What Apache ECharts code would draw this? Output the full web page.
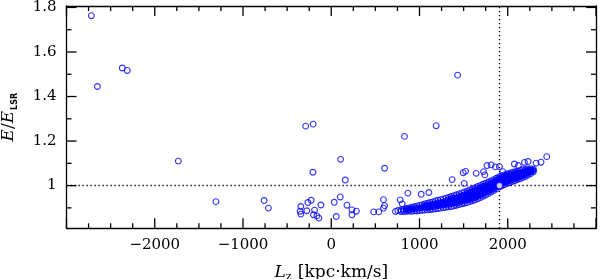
<!DOCTYPE html>
<html>
<head>
<meta charset="utf-8">
<script src="https://cdn.jsdelivr.net/npm/echarts@6/dist/echarts.min.js"></script>
<style>html,body{margin:0;padding:0;background:#fff}#c{width:600px;height:279px}</style>
</head>
<body>
<div id="c"></div>
<script>
// ---- data (Lz [kpc km/s], E/E_LSR) ----
const xTicks = [-2000, -1000, 0, 1000, 2000];
const xMajorTicks = [-3000, -2000, -1000, 0, 1000, 2000, 3000];
const xMinorTicks = [-2750, -2500, -2250, -1750, -1500, -1250, -750, -500, -250,
                     250, 500, 750, 1250, 1500, 1750, 2250, 2500, 2750];
const yMajorTicks = [1.0, 1.2, 1.4, 1.6, 1.8];
const yMinorTicks = [0.9, 1.1, 1.3, 1.5, 1.7];
const refLz = 1906;   // vertical dotted line
const refE = 1.0;     // horizontal dotted line

const haloStars = [
  [-2718,1.763],[-2650,1.445],[-2368,1.528],[-2312,1.517],[-1733,1.110],[-1307,0.928],
  [-761,0.933],[-712,0.899],[-352,0.885],[-345,0.872],[-345,0.906],[-277,0.887],[-265,0.924],
  [-227,0.934],[-208,1.060],[-189,0.890],[-201,0.869],[-163,0.864],[-140,0.854],[-117,0.913],
  [34,0.925],[57,0.861],[102,0.949],[106,1.118],[159,1.025],[178,0.912],[235,0.891],[235,0.869],
  [284,0.885],[481,0.882],[538,0.882],[-290,1.267],[-205,1.276],[830,1.221],[1189,1.269],
  [1432,1.496],[604,1.078]
];
const nearBand = [
  [592,0.937],[604,0.910],[592,0.899],[728,0.884],[755,0.888],[781,0.936],[804,0.918],
  [868,0.966],[1019,0.961],[1106,0.969],[1370,1.027],[1495,1.058],[1522,1.064],[1506,1.010],
  [1642,1.055],[1725,1.063],[1740,1.048],[1765,1.090],[1811,1.093],[1860,1.084],[1906,1.085],
  [1943,1.063],[2075,1.097],[2120,1.090],[2189,1.104],[2230,1.108],[2321,1.101],[2377,1.105],
  [2442,1.130]
];
// dense band: each row = [Lz, E values...]
const bandRows = [
  [790,.884,.890],[820,.883,.894],[850,.885,.892,.897],[880,.886,.893,.900],
  [910,.885,.895,.903],[940,.887,.896,.905],[970,.886,.898,.908],[1000,.888,.900,.911],
  [1030,.889,.901,.914],[1060,.890,.902,.910,.918],[1090,.891,.901,.912,.921],
  [1120,.893,.904,.915,.924],[1150,.894,.906,.916,.927],[1180,.896,.907,.919,.931],
  [1210,.897,.910,.922,.934],[1240,.899,.912,.924,.937],[1270,.901,.913,.926,.940],
  [1300,.903,.916,.930,.944],[1330,.905,.916,.927,.937,.947],[1360,.906,.918,.929,.941,.951],
  [1390,.909,.921,.932,.944,.955],[1420,.912,.923,.935,.946,.959],[1450,.915,.926,.939,.951,.963],
  [1480,.918,.930,.942,.955,.967],[1510,.921,.933,.946,.958,.972],[1540,.924,.935,.945,.956,.966,.976],
  [1570,.928,.938,.950,.961,.971,.981],[1600,.932,.943,.954,.964,.976,.986],
  [1630,.936,.947,.958,.970,.980,.991],[1660,.941,.952,.962,.974,.985,.996],
  [1690,.946,.957,.968,.979,.991,1.001],[1720,.952,.963,.973,.985,.996,1.006],
  [1750,.958,.969,.980,.990,1.001,1.011],[1780,.964,.974,.985,.996,1.006,1.016],
  [1810,.971,.981,.991,1.002,1.011,1.021],[1840,.978,.988,.997,1.008,1.018,1.027],
  [1870,.985,.995,1.005,1.014,1.024,1.033],[1900,.993,1.002,1.011,1.020,1.030,1.039],
  [1930,.999,1.008,1.017,1.026,1.036,1.044],[1960,1.004,1.013,1.022,1.031,1.040,1.048],
  [1990,1.009,1.018,1.026,1.035,1.044,1.052],[2020,1.013,1.022,1.031,1.040,1.048,1.056],
  [2050,1.018,1.027,1.035,1.043,1.051,1.059],[2080,1.022,1.031,1.039,1.047,1.055,1.062],
  [2110,1.027,1.035,1.043,1.051,1.058,1.065],[2140,1.031,1.040,1.048,1.057,1.068],
  [2170,1.036,1.045,1.053,1.062,1.071],[2200,1.041,1.049,1.057,1.065,1.073],
  [2230,1.047,1.055,1.062,1.069,1.075],[2260,1.054,1.062,1.069,1.076],[2290,1.062,1.068,1.074]
];
const sunPoint = [[1906, 1.000]];

// ---- chart ----
const bandEdge = [], bandCore = [];
bandRows.forEach(r => {
  for (let i = 1; i < r.length; i++) {
    const p = [r[0], r[i]];
    if (i === 1 || i === r.length - 1) bandEdge.push(p); else bandCore.push(p);
  }
});

const BLUE = '#0000ff';
const SERIF = 'DejaVu Serif';
const X_MIN = -3000, X_MAX = 3000;
const Y_MIN = 0.8083, Y_MAX = 1.8065;
const GRID = {left: 66.5, top: 6, width: 529.5, height: 222.3};
const SYM = 5.8;
const MAJOR = 10, MINOR = 5;   // tick lengths in px
const ring = {color: 'rgba(0,0,0,0)', borderColor: BLUE, borderWidth: 1.1};
const axisLine = {show: true, onZero: false, lineStyle: {color: '#000', width: 1.3}};
const fmtX = v => (v < 0 ? '\u2212' + Math.abs(v) : String(v));

// linear axis mapping of the grid (same as the value axes' linear scale)
const px = v => GRID.left + (v - X_MIN) / (X_MAX - X_MIN) * GRID.width;
const py = v => GRID.top + (Y_MAX - v) / (Y_MAX - Y_MIN) * GRID.height;
const gBottom = GRID.top + GRID.height, gRight = GRID.left + GRID.width;
const tickEls = [];
function seg(x1, y1, x2, y2) {
  tickEls.push({type: 'line', silent: true, z: 100, zlevel: 0,
    shape: {x1: x1, y1: y1, x2: x2, y2: y2}, style: {stroke: '#000', lineWidth: 1.3}});
}
function xTick(v, len) {
  const x = px(v);
  seg(x, gBottom, x, gBottom - len);
  seg(x, GRID.top, x, GRID.top + len);
}
function yTick(v, len) {
  const y = py(v);
  seg(GRID.left, y, GRID.left + len, y);
  seg(gRight, y, gRight - len, y);
}
xMajorTicks.forEach(v => xTick(v, MAJOR));
xMinorTicks.forEach(v => xTick(v, MINOR));
yMajorTicks.forEach(v => yTick(v, MAJOR));
yMinorTicks.forEach(v => yTick(v, MINOR));

function xAx(pos, labels) {
  return {
    type: 'value', position: pos, min: X_MIN, max: X_MAX, interval: 1000,
    axisLine: axisLine, splitLine: {show: false}, axisTick: {show: false}, minorTick: {show: false},
    axisLabel: labels ? {show: true, margin: 9, customValues: xTicks, formatter: fmtX,
      fontFamily: SERIF, fontSize: 15, color: '#000'} : {show: false},
    name: labels ? '{i|L}{s|z} [kpc·km/s]' : '',
    nameLocation: 'middle', nameGap: 34,
    nameTextStyle: {fontFamily: SERIF, fontSize: 17, color: '#000',
      rich: {i: {fontFamily: SERIF, fontStyle: 'italic', fontSize: 17, lineHeight: 20},
             s: {fontFamily: SERIF, fontSize: 11, verticalAlign: 'bottom', lineHeight: 11, padding: [8, 1, 0, 0]}}}
  };
}
function yAx(pos, labels) {
  return {
    type: 'value', position: pos, min: Y_MIN, max: Y_MAX,
    axisLine: axisLine, splitLine: {show: false}, axisTick: {show: false},
    axisLabel: labels ? {show: true, margin: 10, customValues: yMajorTicks, fontFamily: SERIF, fontSize: 15, color: '#000',
      formatter: v => (Math.abs(v - 1) < 1e-6 ? '1' : v.toFixed(1))} : {show: false},
    name: labels ? '{i|E}{n|/}{i|E}{s|LSR}' : '',
    nameLocation: 'middle', nameGap: 48, nameRotate: 90,
    nameTextStyle: {fontFamily: SERIF, fontSize: 17, color: '#000',
      rich: {i: {fontFamily: SERIF, fontStyle: 'italic', fontSize: 17, lineHeight: 20},
             n: {fontFamily: SERIF, fontSize: 17, lineHeight: 20},
             s: {fontFamily: 'DejaVu Sans', fontWeight: 'bold', fontSize: 8, verticalAlign: 'bottom', lineHeight: 8, padding: [9, 0, 0, 1]}}}
  };
}

const chart = echarts.init(document.getElementById('c'), null, {renderer: 'canvas'});
chart.setOption({
  animation: false,
  backgroundColor: '#fff',
  grid: Object.assign({containLabel: false, outerBoundsMode: 'none'}, GRID),
  xAxis: [xAx('bottom', true), xAx('top', false)],
  yAxis: [yAx('left', true), yAx('right', false)],
  graphic: tickEls,
  series: [
    {type: 'scatter', data: [], z: 1,
     markLine: {silent: true, z: 1, symbol: ['none', 'none'], label: {show: false},
       lineStyle: {color: '#000', width: 1.3, type: [1.3, 2.7]},
       data: [{yAxis: refE}, {xAxis: refLz}]}},
    {type: 'scatter', data: bandCore, symbol: 'circle', symbolSize: SYM + 1, z: 3,
     itemStyle: {color: BLUE}, silent: true},
    {type: 'scatter', data: bandEdge, symbol: 'circle', symbolSize: SYM, z: 3, itemStyle: ring, silent: true},
    {type: 'scatter', data: nearBand, symbol: 'circle', symbolSize: SYM, z: 3, itemStyle: ring, silent: true},
    {type: 'scatter', data: haloStars, symbol: 'circle', symbolSize: SYM, z: 3, itemStyle: ring, silent: true},
    {type: 'scatter', data: sunPoint, symbol: 'circle', symbolSize: 6.5, z: 5,
     itemStyle: {color: '#fff', borderColor: BLUE, borderWidth: 1.3}, silent: true}
  ]
});
</script>
</body>
</html>
